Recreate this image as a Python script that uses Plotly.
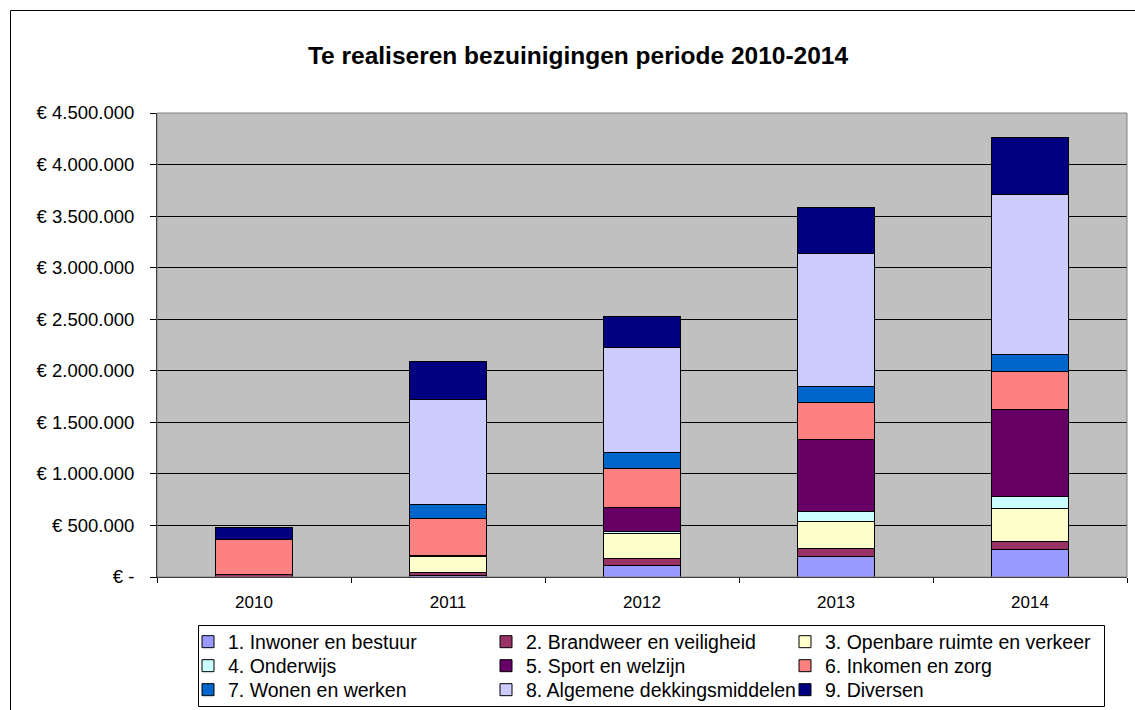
import plotly.graph_objects as go

# ---------------- data ----------------
years = ["2010", "2011", "2012", "2013", "2014"]
series_names = [
    "1. Inwoner en bestuur",
    "2. Brandweer en veiligheid",
    "3. Openbare ruimte en verkeer",
    "4. Onderwijs",
    "5. Sport en welzijn",
    "6. Inkomen en zorg",
    "7. Wonen en werken",
    "8. Algemene dekkingsmiddelen",
    "9. Diversen",
]
s1_inwoner = [0, 15000, 112000, 197000, 271000]
s2_brandweer = [20000, 30000, 65000, 78000, 78000]
s3_openbare = [0, 152000, 249000, 259000, 320000]
s4_onderwijs = [0, 0, 16000, 100000, 110000]
s5_sport = [0, 10000, 236000, 695000, 850000]
s6_inkomen = [346000, 365000, 371000, 368000, 361000]
s7_wonen = [0, 129000, 158000, 151000, 165000]
s8_algemene = [0, 1017000, 1021000, 1286000, 1553000]
s9_diversen = [116000, 368000, 303000, 453000, 559000]

y_tickvals = [0, 500000, 1000000, 1500000, 2000000, 2500000, 3000000, 3500000, 4000000, 4500000]
y_ticktext = ["€ -", "€ 500.000", "€ 1.000.000", "€ 1.500.000", "€ 2.000.000",
              "€ 2.500.000", "€ 3.000.000", "€ 3.500.000", "€ 4.000.000", "€ 4.500.000"]

title_text = "Te realiseren bezuinigingen periode 2010-2014"

# ---------------- styles ----------------
colors = ["#9999FF", "#993366", "#FFFFCC", "#CCFFFF", "#660066",
          "#FF8080", "#0066CC", "#CCCCFF", "#000080"]

W, H = 1135, 710
L, R, T, B = 157, 8, 113, 133
PW, PH = W - L - R, H - T - B


def px_x(px):
    return (px - L) / PW


def px_y(py):
    return (H - B - py) / PH


all_series = [s1_inwoner, s2_brandweer, s3_openbare, s4_onderwijs, s5_sport,
              s6_inkomen, s7_wonen, s8_algemene, s9_diversen]

# legend layout: text start x per column, row centre y (pixels)
col_text_x = [228, 526, 825]
row_center_y = [642, 666, 690]
LEG_FONT = 19.5

fig = go.Figure()
font_family = "Liberation Sans, Arial, sans-serif"
legends = {}
for i, (name, vals) in enumerate(zip(series_names, all_series)):
    key = "legend" if i == 0 else f"legend{i + 1}"
    fig.add_trace(go.Bar(
        x=years, y=vals, name=name,
        marker=dict(color=colors[i], line=dict(color="#000000", width=1)),
        legend=key,
        hoverinfo="x+y+name",
    ))
    col, row = i % 3, i // 3
    legends[key] = dict(
        orientation="v", xref="paper", yref="paper", xanchor="left", yanchor="middle",
        x=px_x(col_text_x[col] - 40), y=px_y(row_center_y[row]),
        bgcolor="rgba(0,0,0,0)", borderwidth=0,
        font=dict(family=font_family, size=LEG_FONT, color="#000000"),
        itemclick=False, itemdoubleclick=False,
    )

fig.update_layout(
    width=W, height=H,
    margin=dict(l=L, r=R, t=T, b=B, autoexpand=False),
    paper_bgcolor="#FFFFFF",
    plot_bgcolor="#C0C0C0",
    barmode="stack",
    bargap=0.6,
    title=dict(text="<b>" + title_text + "</b>", x=578 / W, xanchor="center",
               xref="container", y=1 - 55 / H, yanchor="middle", yref="container",
               font=dict(family=font_family, size=24.5, color="#000000")),
    font=dict(family=font_family, color="#000000"),
    showlegend=True,
    **legends,
)

fig.update_xaxes(
    type="category",
    showline=True, linecolor="#000000", linewidth=1,
    ticks="outside", tickson="boundaries", ticklen=5, tickcolor="#000000",
    tickfont=dict(family=font_family, size=17, color="#000000"),
    ticklabelstandoff=10,
    showgrid=False, zeroline=False, mirror=False,
)
fig.update_yaxes(
    range=[0, 4500000],
    tickmode="array", tickvals=y_tickvals, ticktext=y_ticktext,
    showline=True, linecolor="#000000", linewidth=1,
    ticks="outside", ticklen=6, tickcolor="#000000",
    tickfont=dict(family=font_family, size=18.5, color="#000000"),
    ticklabelstandoff=12,
    showgrid=True, gridcolor="#000000", gridwidth=1,
    zeroline=False,
)

shapes = [
    # plot area border (grey)
    dict(type="rect", xref="paper", yref="paper", x0=0, x1=1, y0=0, y1=1,
         line=dict(color="#808080", width=1), fillcolor="rgba(0,0,0,0)", layer="above"),
    # outer chart border
    dict(type="rect", xref="paper", yref="paper",
         x0=px_x(10.5), x1=px_x(1160), y0=px_y(740), y1=px_y(10.5),
         line=dict(color="#000000", width=1), fillcolor="rgba(0,0,0,0)", layer="above"),
    # legend box
    dict(type="rect", xref="paper", yref="paper",
         x0=px_x(198.5), x1=px_x(1104.5), y0=px_y(706.5), y1=px_y(625.5),
         line=dict(color="#000000", width=1), fillcolor="rgba(0,0,0,0)", layer="above"),
]
fig.update_layout(shapes=shapes)

fig.write_html("out.html", config={"displayModeBar": False},
               post_script="document.body.style.margin='0px';document.body.style.overflow='hidden';")
